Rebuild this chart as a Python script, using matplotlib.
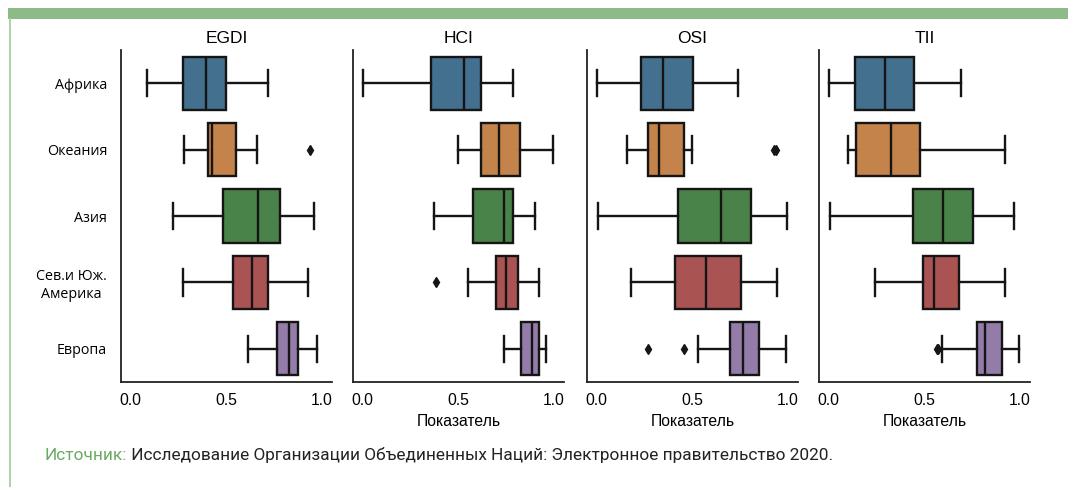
import colorsys
import matplotlib.pyplot as plt
import matplotlib.colors as mcolors
from matplotlib.patches import Rectangle
from matplotlib.lines import Line2D

regions = ["Африка", "Океания", "Азия", "Сев.и Юж.\nАмерика", "Европа"]
indices = ["EGDI", "HCI", "OSI", "TII"]

# per index, per region: [whislo, q1, med, q3, whishi]
egdi = [[0.086, 0.275, 0.397, 0.502, 0.718],
        [0.282, 0.407, 0.428, 0.551, 0.661],
        [0.224, 0.486, 0.669, 0.784, 0.959],
        [0.273, 0.535, 0.638, 0.721, 0.931],
        [0.615, 0.769, 0.828, 0.879, 0.978]]
hci = [[0.0, 0.358, 0.529, 0.620, 0.790],
       [0.500, 0.620, 0.712, 0.826, 1.0],
       [0.375, 0.578, 0.740, 0.786, 0.901],
       [0.553, 0.700, 0.753, 0.815, 0.924],
       [0.741, 0.828, 0.886, 0.926, 0.961]]
osi = [[0.0, 0.234, 0.350, 0.507, 0.742],
       [0.160, 0.271, 0.329, 0.459, 0.498],
       [0.005, 0.424, 0.654, 0.811, 0.999],
       [0.181, 0.412, 0.571, 0.758, 0.944],
       [0.529, 0.700, 0.767, 0.851, 0.992]]
tii = [[0.0, 0.138, 0.295, 0.446, 0.694],
       [0.104, 0.143, 0.328, 0.481, 0.924],
       [0.010, 0.440, 0.600, 0.754, 0.973],
       [0.244, 0.497, 0.550, 0.685, 0.922],
       [0.594, 0.780, 0.818, 0.908, 1.0]]

egdi_out = [[], [0.94], [], [], []]
hci_out = [[], [], [], [0.384], []]
osi_out = [[], [0.929, 0.941], [], [], [0.267, 0.459]]
tii_out = [[], [], [], [], [0.566, 0.573]]

all_stats = [egdi, hci, osi, tii]
all_out = [egdi_out, hci_out, osi_out, tii_out]

base = ["#1f77b4", "#ff7f0e", "#2ca02c", "#d62728", "#9467bd"]


def desat(c, prop=0.5):
    r, g, b = mcolors.to_rgb(c)
    h, l, s = colorsys.rgb_to_hls(r, g, b)
    return colorsys.hls_to_rgb(h, l, s * prop)


colors = [desat(c) for c in base]
green = "#8cbb88"
edge = "#151515"

fig = plt.figure(figsize=(10.68, 4.87), dpi=100)

# frame decoration
fig.add_artist(Rectangle((8 / 1068, 1 - 19 / 487), 1, 11 / 487,
                         transform=fig.transFigure, color=green, lw=0))
fig.add_artist(Line2D([9.5 / 1068, 9.5 / 1068], [0, 1 - 19 / 487],
                      transform=fig.transFigure, color="#a8cfa4", lw=1.3))

lefts = [121, 353, 587, 819]
for k, name in enumerate(indices):
    ax = fig.add_axes([lefts[k] / 1068, 105 / 487, 211 / 1068, 332 / 487])
    stats = []
    for i in range(5):
        lo, q1, med, q3, hi = all_stats[k][i]
        stats.append(dict(whislo=lo, q1=q1, med=med, q3=q3, whishi=hi,
                          fliers=all_out[k][i]))
    bp = ax.bxp(stats, positions=range(5), vert=False, widths=0.8,
                capwidths=0.4, patch_artist=True,
                boxprops=dict(edgecolor=edge, linewidth=1.7),
                medianprops=dict(color=edge, linewidth=1.7),
                whiskerprops=dict(color=edge, linewidth=1.7),
                capprops=dict(color=edge, linewidth=1.7),
                flierprops=dict(marker="d", markerfacecolor=edge,
                                markeredgecolor=edge, markersize=5))
    for patch, c in zip(bp["boxes"], colors):
        patch.set_facecolor(c)
    ax.set_ylim(4.5, -0.5)
    ax.set_xlim(-0.05, 1.055)
    ax.set_xticks([0.0, 0.5, 1.0])
    ax.set_xticklabels(["0.0", "0.5", "1.0"], fontfamily="Liberation Sans",
                       fontsize=11.3)
    ax.tick_params(length=0, pad=8)
    ax.spines["top"].set_visible(False)
    ax.spines["right"].set_visible(False)
    for s in ["left", "bottom"]:
        ax.spines[s].set_linewidth(1.3)
        ax.spines[s].set_color("#222222")
    ax.set_title(name, fontfamily="Liberation Sans", fontsize=12.5, pad=5)
    if k == 0:
        ax.set_yticks(range(5))
        ax.set_yticklabels(regions, fontfamily="Open Sans", fontsize=10.3,
                           multialignment="center")
        ax.tick_params(axis="y", pad=10)
    else:
        ax.set_yticks([])
        ax.set_xlabel("Показатель", fontfamily="Liberation Sans",
                      fontsize=11.3, labelpad=4)

# source line: fit to the reference width (45px .. 832px)
fam = ["Liberation Sans Narrow", "Roboto"]
fs = 12.0
renderer = fig.canvas.get_renderer()
t1 = fig.text(45 / 1068, 1 - 455 / 487, "Источник:", color="#6aaa64",
              fontfamily=fam, fontsize=fs, va="center")
t2 = fig.text(0, 1 - 455 / 487,
              " Исследование Организации Объединенных Наций: Электронное правительство 2020.",
              color="#222222", fontfamily=fam, fontsize=fs, va="center")
w = t1.get_window_extent(renderer).width + t2.get_window_extent(renderer).width
fs = fs * 787 / w
t1.set_fontsize(fs)
t2.set_fontsize(fs)
w1 = t1.get_window_extent(renderer).width
t2.set_x((45 + w1) / 1068)

fig.savefig("out.png", dpi=100)
